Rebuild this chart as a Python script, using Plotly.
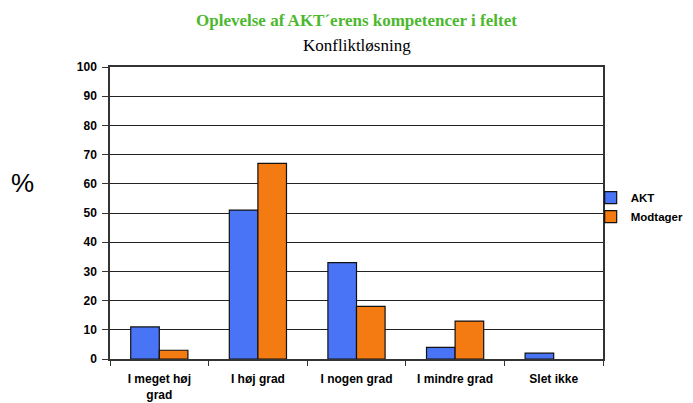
import plotly.graph_objects as go

categories = ["I meget høj<br>grad", "I høj grad", "I nogen grad", "I mindre grad", "Slet ikke"]
akt = [11, 51, 33, 4, 2]
modtager = [3, 67, 18, 13, 0]
y_ticks = [0, 10, 20, 30, 40, 50, 60, 70, 80, 90, 100]


def line_widths(vals):
    return [1.2 if v > 0 else 0 for v in vals]


fig = go.Figure()
fig.add_trace(go.Bar(x=categories, y=akt, name="AKT",
                     marker=dict(color="#4a74f6", line=dict(color="#111", width=line_widths(akt)))))
fig.add_trace(go.Bar(x=categories, y=modtager, name="Modtager",
                     marker=dict(color="#f47a12", line=dict(color="#111", width=line_widths(modtager)))))

fig.update_layout(
    width=693, height=394,
    margin=dict(l=102, r=98, t=59, b=43, autoexpand=False),
    paper_bgcolor="white", plot_bgcolor="white",
    barmode="group", bargap=0.42, bargroupgap=0,
    font=dict(family="Liberation Sans", size=12, color="black"),
    legend=dict(x=0.975, xanchor="left", y=0.52, yanchor="middle",
                font=dict(family="Liberation Sans", size=11.5, color="black", weight="bold"),
                itemwidth=30, tracegroupgap=2, bgcolor="rgba(0,0,0,0)"),
    showlegend=True,
)
fig.update_xaxes(
    type="category", showline=True, linecolor="#333", linewidth=1.5, mirror=True,
    ticks="outside", tickson="boundaries", ticklen=5, tickcolor="#333",
    ticklabelstandoff=8,
    tickfont=dict(family="Liberation Sans", size=12, color="black", weight="bold"),
    showgrid=False,
)
fig.update_yaxes(
    range=[0, 100], tickvals=y_ticks, ticktext=[str(v) for v in y_ticks],
    showline=True, linecolor="#333", linewidth=1.5, mirror=True,
    ticks="outside", ticklen=6, tickcolor="#333", ticklabelstandoff=3,
    showgrid=True, gridcolor="#222", gridwidth=1.3,
    tickfont=dict(family="Liberation Sans", size=12, color="black", weight="bold"),
    zeroline=False,
)
fig.add_annotation(text="<b>Oplevelse af AKT´erens kompetencer i feltet</b>",
                   xref="paper", yref="paper", x=0.5, y=1.0, yshift=47,
                   xanchor="center", yanchor="middle", showarrow=False,
                   font=dict(family="Liberation Serif", size=17, color="#4cb82e"))
fig.add_annotation(text="Konfliktløsning",
                   xref="paper", yref="paper", x=0.5, y=1.0, yshift=22,
                   xanchor="center", yanchor="middle", showarrow=False,
                   font=dict(family="Liberation Serif", size=17, color="black"))
fig.add_annotation(text="%", xref="paper", yref="paper", x=0, xshift=-88, y=0.603,
                   xanchor="center", yanchor="middle",
                   showarrow=False, font=dict(family="Liberation Sans", size=26, color="black"))

fig.write_html("out.html")
